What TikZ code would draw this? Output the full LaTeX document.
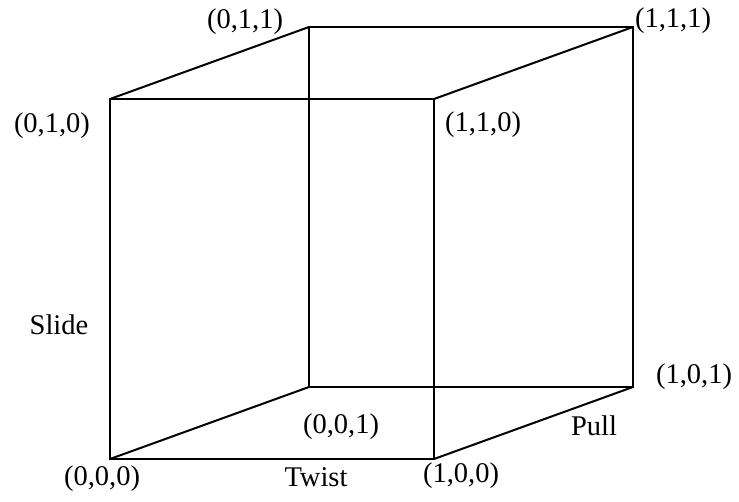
\documentclass[tikz,border=0pt]{standalone}
\usepackage{fontspec}
\setmainfont{Liberation Serif}
\begin{document}
\begin{tikzpicture}[x=1pt,y=-1pt,
  edge/.style={line width=2pt,line join=miter},
  lbl/.style={font=\fontsize{28.5}{32}\selectfont,inner sep=0pt,anchor=center}]
\useasboundingbox (0,0) rectangle (739,502);
% corners
\coordinate (c000) at (110,459);
\coordinate (c100) at (434,459);
\coordinate (c010) at (110,99);
\coordinate (c110) at (434,99);
\coordinate (c001) at (309,387);
\coordinate (c101) at (633,387);
\coordinate (c011) at (309,27);
\coordinate (c111) at (633,27);
% edges
\draw[edge] (c000) -- (c100) -- (c110) -- (c010) -- cycle;
\draw[edge] (c001) -- (c101) -- (c111) -- (c011) -- cycle;
\draw[edge] (c000) -- (c001);
\draw[edge] (c100) -- (c101);
\draw[edge] (c010) -- (c011);
\draw[edge] (c110) -- (c111);
% labels
\node[lbl] (l011) at (245,22) {(0,1,1)};
\node[lbl] (l111) at (673,21) {(1,1,1)};
\node[lbl] (l010) at (52,126) {(0,1,0)};
\node[lbl] (l110) at (483,125) {(1,1,0)};
\node[lbl] (lslide) at (59,325) {Slide};
\node[lbl] (l101) at (694,377) {(1,0,1)};
\node[lbl] (l001) at (341,427) {(0,0,1)};
\node[lbl] (lpull) at (594,426) {Pull};
\node[lbl] (l000) at (102,479) {(0,0,0)};
\node[lbl] (ltwist) at (316,477) {Twist};
\node[lbl] (l100) at (461,476) {(1,0,0)};
\end{tikzpicture}
\end{document}
